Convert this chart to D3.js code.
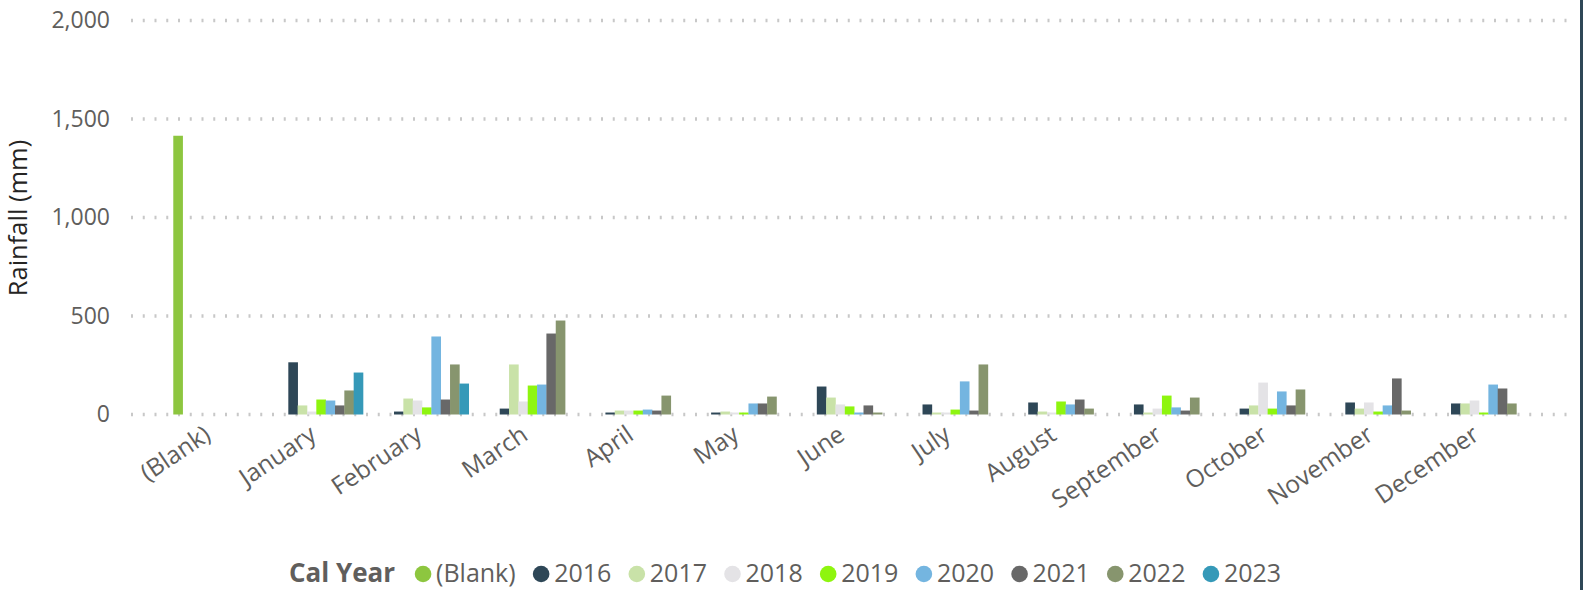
<!DOCTYPE html>
<html>
<head>
<meta charset="utf-8">
<script src="https://cdn.jsdelivr.net/npm/d3@7"></script>
<style>
  body { margin: 0; background: #fff; }
  svg { display: block; font-family: "Open Sans", "Segoe UI", sans-serif; }
</style>
</head>
<body>
<div class="canvas"></div>
<script>
// months on the x axis
const categories = ["(Blank)", "January", "February", "March", "April", "May", "June",
  "July", "August", "September", "October", "November", "December"];
const seriesNames = ["(Blank)", "2016", "2017", "2018", "2019", "2020", "2021", "2022", "2023"];
const seriesColors = ["#8DC63F", "#2E4757", "#C9E2A8", "#E4E3E6", "#8EF50F", "#74B5E0", "#686868", "#87956E", "#3599B8"];

// rainfall (mm), one value per category
const blank = [1415, 0, 0, 0, 0, 0, 0, 0, 0, 0, 0, 0, 0];
const y2016 = [0, 265, 15, 30, 10, 10, 142, 51, 61, 51, 30, 61, 56];
const y2017 = [0, 46, 81, 254, 20, 15, 86, 10, 15, 10, 46, 30, 56];
const y2018 = [0, 15, 71, 66, 20, 10, 51, 10, 10, 30, 162, 61, 71];
const y2019 = [0, 76, 36, 147, 20, 10, 41, 25, 66, 96, 30, 15, 10];
const y2020 = [0, 71, 396, 152, 25, 56, 10, 168, 51, 36, 117, 46, 152];
const y2021 = [0, 46, 76, 411, 20, 56, 46, 20, 76, 20, 46, 183, 132];
const y2022 = [0, 122, 254, 477, 96, 91, 10, 254, 30, 86, 127, 20, 56];
const y2023 = [0, 213, 157, 0, 0, 0, 0, 0, 0, 0, 0, 0, 0];
const yTicks = [0, 500, 1000, 1500, 2000];

const allSeries = [blank, y2016, y2017, y2018, y2019, y2020, y2021, y2022, y2023];

const width = 1588, height = 590;
const margin = {top: 20.5, right: 20, bottom: 175.5, left: 131};

const svg = d3.select(".canvas")
  .append("svg")
    .attr("width", width)
    .attr("height", height);

const x0 = d3.scaleBand()
    .domain(categories)
    .range([margin.left, 1568])
    .paddingInner(0.205)
    .paddingOuter(0.4);

const x1 = d3.scaleBand()
    .domain(seriesNames)
    .range([0, x0.bandwidth()]);

const y = d3.scaleLinear()
    .domain([0, 2000])
    .range([height - margin.bottom, margin.top]);

// dotted gridlines
svg.append("g").selectAll("line")
  .data(yTicks)
  .enter().append("line")
    .attr("x1", margin.left)
    .attr("x2", 1570)
    .attr("y1", d => y(d))
    .attr("y2", d => y(d))
    .attr("stroke", "#c8c8c8")
    .attr("stroke-width", 3.5)
    .attr("stroke-dasharray", "2 9.75");

// y axis labels
const yAxis = d3.axisLeft(y).tickValues(yTicks).tickSize(0).tickPadding(0).tickFormat(d3.format(","));
const yAxisGroup = svg.append("g")
    .attr("transform", "translate(110,0)")
    .call(yAxis);
yAxisGroup.select(".domain").remove();
yAxisGroup.selectAll("text")
    .attr("font-family", "Open Sans")
    .attr("font-size", 23)
    .attr("fill", "#605E5C");

// bars
const groups = svg.append("g").selectAll("g")
  .data(categories)
  .enter().append("g")
    .attr("transform", d => `translate(${x0(d)},0)`);

groups.selectAll("rect")
  .data((c, i) => seriesNames.map((s, j) => ({series: s, idx: j, value: allSeries[j][i]})).filter(d => d.value > 0))
  .enter().append("rect")
    .attr("x", d => x1(d.series))
    .attr("width", x1.bandwidth() + 0.3)
    .attr("y", d => y(d.value))
    .attr("height", d => y(0) - y(d.value))
    .attr("fill", d => seriesColors[d.idx]);

// x axis labels
const xAxis = d3.axisBottom(x0).tickSize(0).tickPadding(0);
const xAxisGroup = svg.append("g")
    .attr("transform", `translate(0,${y(0)})`)
    .call(xAxis);
xAxisGroup.select(".domain").remove();
xAxisGroup.selectAll("text")
    .attr("font-family", "Open Sans")
    .attr("font-size", 24.5)
    .attr("fill", "#605E5C")
    .attr("text-anchor", "end")
    .attr("dy", null)
    .attr("y", 0)
    .attr("transform", "translate(-3,24) rotate(-34)");

// y axis title
svg.append("text")
    .attr("transform", "translate(27,218) rotate(-90)")
    .attr("text-anchor", "middle")
    .attr("font-size", 25.5)
    .attr("fill", "#252423")
    .text("Rainfall (mm)");

// legend
const legend = svg.append("g").attr("transform", "translate(0,582)");
const title = legend.append("text")
    .attr("x", 289)
    .attr("font-size", 26)
    .attr("font-weight", "bold")
    .attr("fill", "#605E5C")
    .text("Cal Year");
let lx = 289 + title.node().getComputedTextLength() + 28;
seriesNames.forEach((s, i) => {
  legend.append("circle")
      .attr("cx", lx)
      .attr("cy", -8)
      .attr("r", 8.3)
      .attr("fill", seriesColors[i]);
  const t = legend.append("text")
      .attr("x", lx + 13)
      .attr("font-size", 25)
      .attr("fill", "#605E5C")
      .text(s);
  lx += 13 + t.node().getComputedTextLength() + 25.5;
});

// dark edge on the right
svg.append("rect")
    .attr("x", 1580)
    .attr("y", 0)
    .attr("width", 3)
    .attr("height", height)
    .attr("fill", "#2E4757");
</script>
</body>
</html>
